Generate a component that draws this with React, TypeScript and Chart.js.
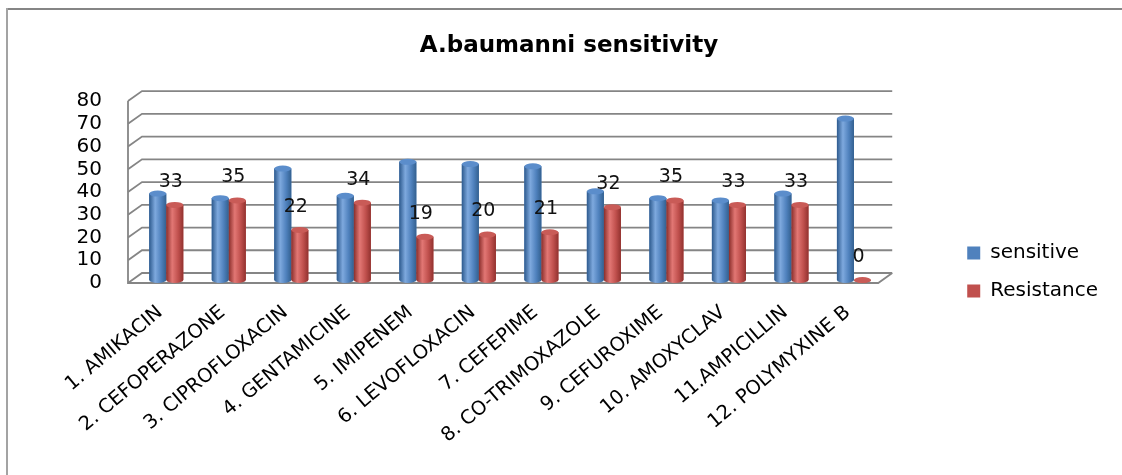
import React, { useEffect, useRef } from 'react';
import { Chart, registerables } from 'chart.js';

Chart.register(...registerables);

const categories = [
  '1. AMIKACIN',
  '2. CEFOPERAZONE',
  '3. CIPROFLOXACIN',
  '4. GENTAMICINE',
  '5. IMIPENEM',
  '6. LEVOFLOXACIN',
  '7. CEFEPIME',
  '8. CO-TRIMOXAZOLE',
  '9. CEFUROXIME',
  '10. AMOXYCLAV',
  '11.AMPICILLIN',
  '12. POLYMYXINE B',
];
const sensitive = [38, 36, 49, 37, 52, 51, 50, 39, 36, 35, 38, 71];
const resistance = [33, 35, 22, 34, 19, 20, 21, 32, 35, 33, 33, 0];
const yMin = 0;
const yMax = 80;
const yStep = 10;
const titleText = 'A.baumanni sensitivity';
const seriesNames = ['sensitive', 'Resistance'];

const BLUE = '#4F81BD';
const RED = '#C0504D';
const shades = [
  { dark: '#2d5a8e', light: '#7ea9de', mid: '#4f81bd', dark2: '#33608f', top: '#5b8dcb' },
  { dark: '#8a2e2b', light: '#e27774', mid: '#c0504d', dark2: '#92322f', top: '#c95b57' },
];

const DEPTH = 7;

const framePlugin = {
  id: 'frame',
  beforeDraw(chart: any) {
    const { ctx, width, height } = chart;
    ctx.save();
    ctx.fillStyle = '#fff';
    ctx.fillRect(0, 0, width, height);
    ctx.lineWidth = 2;
    ctx.strokeStyle = '#858585';
    ctx.beginPath();
    ctx.moveTo(6, 9);
    ctx.lineTo(width, 9);
    ctx.stroke();
    ctx.strokeStyle = '#a3a3a3';
    ctx.beginPath();
    ctx.moveTo(7, 8);
    ctx.lineTo(7, height);
    ctx.stroke();
    ctx.restore();
  },
};

const wallPlugin = {
  id: 'wall3d',
  beforeDatasetsDraw(chart: any) {
    const { ctx, chartArea } = chart;
    const y = chart.scales.y;
    const L = chartArea.left;
    const R = chartArea.right;
    ctx.save();
    ctx.strokeStyle = '#858585';
    ctx.lineWidth = 1.8;
    for (let v = yMin; v <= yMax; v += yStep) {
      const yb = y.getPixelForValue(v) - DEPTH;
      ctx.beginPath();
      ctx.moveTo(L - DEPTH, yb + 10);
      ctx.lineTo(L + DEPTH, yb);
      ctx.lineTo(R + DEPTH, yb);
      ctx.stroke();
    }
    const yTop = y.getPixelForValue(yMax) - DEPTH + 10;
    const yBot = y.getPixelForValue(yMin) - DEPTH + 10;
    const yBack = y.getPixelForValue(yMin) - DEPTH;
    ctx.beginPath();
    ctx.moveTo(L - DEPTH, yTop);
    ctx.lineTo(L - DEPTH, yBot);
    ctx.lineTo(R - DEPTH, yBot);
    ctx.lineTo(R + DEPTH, yBack);
    ctx.stroke();
    ctx.restore();
  },
};

const cylinderPlugin = {
  id: 'cylinders',
  afterDatasetsDraw(chart: any) {
    const { ctx } = chart;
    ctx.save();
    chart.data.datasets.forEach((ds: any, di: number) => {
      const meta = chart.getDatasetMeta(di);
      const c = shades[di];
      meta.data.forEach((el: any) => {
        const x = el.x;
        const top = el.y;
        const base = el.base;
        const w = el.width;
        const l = x - w / 2;
        const r = x + w / 2;
        const ry = 3;
        const g = ctx.createLinearGradient(l, 0, r, 0);
        g.addColorStop(0, c.dark);
        g.addColorStop(0.35, c.light);
        g.addColorStop(0.7, c.mid);
        g.addColorStop(1, c.dark2);
        ctx.fillStyle = g;
        ctx.beginPath();
        ctx.moveTo(l, top);
        ctx.lineTo(l, base);
        ctx.ellipse(x, base, w / 2, ry, 0, Math.PI, 0, true);
        ctx.lineTo(r, top);
        ctx.closePath();
        ctx.fill();
        ctx.fillStyle = c.top;
        ctx.beginPath();
        ctx.ellipse(x, top, w / 2, ry, 0, 0, Math.PI * 2);
        ctx.fill();
      });
    });
    // data labels for resistance series
    const meta = chart.getDatasetMeta(1);
    ctx.fillStyle = '#111';
    ctx.font = '19px "DejaVu Sans"';
    ctx.textAlign = 'center';
    ctx.textBaseline = 'middle';
    meta.data.forEach((el: any, i: number) => {
      ctx.fillText(String(resistance[i]), el.x - 4, el.y - 23);
    });
    ctx.restore();
  },
};

export default function App() {
  const ref = useRef<HTMLCanvasElement>(null);
  useEffect(() => {
    if (!ref.current) return;
    const chart = new Chart(ref.current, {
      type: 'bar',
      data: {
        labels: categories,
        datasets: [
          { label: seriesNames[0], data: sensitive, backgroundColor: BLUE, borderWidth: 0 },
          { label: seriesNames[1], data: resistance, backgroundColor: RED, borderWidth: 0 },
        ],
      },
      options: {
        animation: false,
        responsive: true,
        maintainAspectRatio: false,
        layout: { padding: { top: 10, left: 30, right: 14, bottom: 0 } },
        datasets: { bar: { categoryPercentage: 0.545, barPercentage: 1.0 } },
        scales: {
          x: {
            grid: { display: false, drawTicks: false },
            border: { display: false },
            ticks: {
              autoSkip: false,
              minRotation: 40,
              maxRotation: 40,
              padding: 21,
              labelOffset: -6,
              color: '#000',
              font: { family: '"DejaVu Sans"', size: 19.5 },
            },
            afterFit: (s: any) => { s.height = 195; },
          },
          y: {
            min: yMin,
            max: yMax,
            grid: { display: false, drawTicks: false },
            border: { display: false },
            ticks: {
              stepSize: yStep,
              autoSkip: false,
              padding: 33,
              labelOffset: 3,
              color: '#000',
              font: { family: '"DejaVu Sans"', size: 20 },
            },
            afterFit: (s: any) => { s.width = 105; },
          },
          y2: {
            position: 'right',
            display: true,
            grid: { display: false, drawTicks: false },
            border: { display: false },
            ticks: { display: false },
            afterFit: (s: any) => { s.width = 64; },
          },
        },
        plugins: {
          title: {
            display: true,
            text: titleText,
            color: '#000',
            font: { family: '"DejaVu Sans"', size: 23, weight: 'bold' },
            padding: { top: 22.5, bottom: 38 },
          },
          legend: {
            position: 'right',
            align: 'center',
            title: { display: true, text: '', padding: { top: 20, bottom: 24.6 }, font: { size: 12 } },
            labels: {
              boxWidth: 13,
              boxHeight: 13,
              padding: 18,
              color: '#000',
              font: { family: '"DejaVu Sans"', size: 20 },
            },
          },
          tooltip: { enabled: false },
        },
      },
      plugins: [framePlugin, wallPlugin, cylinderPlugin],
    });
    return () => chart.destroy();
  }, []);

  return (
    <div style={{ position: 'fixed', left: 0, top: 0, width: 1122, height: 475, background: '#fff', overflow: 'hidden' }}>
      <canvas ref={ref} />
    </div>
  );
}
